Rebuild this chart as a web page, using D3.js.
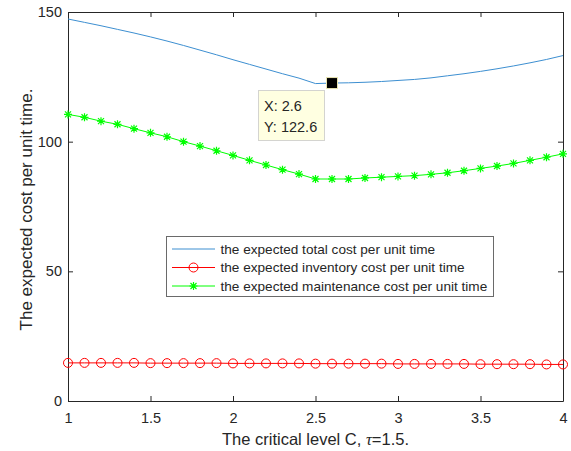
<!DOCTYPE html>
<html><head><meta charset="utf-8">
<script src="https://cdn.jsdelivr.net/npm/d3@7"></script>
<style>
body{margin:0;background:#fff;}
text{font-family:"Liberation Sans",Arial,sans-serif;fill:#262626;}
</style></head>
<body><svg id="c" width="571" height="451"></svg>
<script>
const xValues = [1.0,1.1,1.2,1.3,1.4,1.5,1.6,1.7,1.8,1.9,2.0,2.1,2.2,2.3,2.4,2.5,2.6,2.7,2.8,2.9,3.0,3.1,3.2,3.3,3.4,3.5,3.6,3.7,3.8,3.9,4.0];
const totalCost = [147.3,146.0,144.7,143.3,141.9,140.4,138.8,137.1,135.3,133.5,131.6,129.8,128.0,126.2,124.5,122.4,122.6,122.7,122.9,123.2,123.6,124.0,124.6,125.4,126.2,127.1,128.1,129.2,130.4,131.7,133.2];
const inventoryCost = [14.7,14.7,14.7,14.7,14.7,14.6,14.6,14.6,14.6,14.6,14.5,14.5,14.5,14.5,14.5,14.4,14.4,14.4,14.4,14.4,14.3,14.3,14.3,14.3,14.3,14.2,14.2,14.2,14.2,14.1,14.1];
const maintenanceCost = [110.5,109.4,107.9,106.7,105.0,103.4,101.9,100.0,98.3,96.5,94.7,92.8,91.0,89.2,87.5,85.6,85.6,85.6,86.0,86.3,86.6,86.9,87.4,88.0,88.8,89.7,90.6,91.6,92.8,94.0,95.3];
const xTicks = [1,1.5,2,2.5,3,3.5,4];
const yTicks = [0,50,100,150];
const legendLabels = ["the expected total cost per unit time","the expected inventory cost per unit time","the expected maintenance cost per unit time"];
const tipX = 2.6, tipY = 122.6;

const L=68,R=563,T=12,B=401;
const svg=d3.select("#c");
const x=d3.scaleLinear().domain([1,4]).range([L,R]);
const y=d3.scaleLinear().domain([0,150]).range([B,T]);
const axC="#262626";

// axes
const gx=svg.append("g").attr("transform",`translate(0,${B})`)
  .call(d3.axisBottom(x).tickValues(xTicks).tickFormat(d3.format("")).tickSizeInner(-5).tickSizeOuter(0).tickPadding(12));
const gxt=svg.append("g").attr("transform",`translate(0,${T})`)
  .call(d3.axisTop(x).tickValues(xTicks).tickFormat("").tickSizeInner(-5).tickSizeOuter(0));
const gy=svg.append("g").attr("transform",`translate(${L},0)`)
  .call(d3.axisLeft(y).tickValues(yTicks).tickSizeInner(-5).tickSizeOuter(0).tickPadding(6));
const gyr=svg.append("g").attr("transform",`translate(${R},0)`)
  .call(d3.axisRight(y).tickValues(yTicks).tickFormat("").tickSizeInner(-5).tickSizeOuter(0));
[gx,gxt,gy,gyr].forEach(g=>{
  g.selectAll("path").attr("stroke",axC).attr("stroke-width",1);
  g.selectAll("line").attr("stroke",axC);
  g.selectAll("text").attr("font-size",14.5).attr("fill",axC).style("font-family","'Liberation Sans',Arial,sans-serif");
});

const pts=arr=>xValues.map((v,i)=>[v,arr[i]]);
const line=d3.line().x(d=>x(d[0])).y(d=>y(d[1]));

svg.append("path").datum(pts(totalCost)).attr("d",line).attr("fill","none").attr("stroke","#3d8fd1").attr("stroke-width",1);
svg.append("path").datum(pts(inventoryCost)).attr("d",line).attr("fill","none").attr("stroke","#ff0000").attr("stroke-width",1);
svg.append("path").datum(pts(maintenanceCost)).attr("d",line).attr("fill","none").attr("stroke","#00ff00").attr("stroke-width",1);

function circles(g,data){
  g.selectAll("circle.m").data(data).enter().append("circle")
   .attr("cx",d=>x(d[0])).attr("cy",d=>y(d[1])).attr("r",4.5)
   .attr("fill","none").attr("stroke","#ff0000").attr("stroke-width",1);
}
const starPath=(cx,cy)=>{const r=4,q=3;return `M${cx-r},${cy}H${cx+r}M${cx},${cy-r}V${cy+r}M${cx-q},${cy-q}L${cx+q},${cy+q}M${cx-q},${cy+q}L${cx+q},${cy-q}`;};
circles(svg,pts(inventoryCost));
svg.selectAll("path.star").data(pts(maintenanceCost)).enter().append("path")
  .attr("d",d=>starPath(x(d[0]),y(d[1]))).attr("stroke","#00ff00").attr("stroke-width",1.2).attr("fill","none");

// data tip
svg.append("rect").attr("x",x(tipX)-5.5).attr("y",y(tipY)-5.5).attr("width",11).attr("height",11)
  .attr("fill","#000").attr("stroke","#e8e4b0").attr("stroke-width",1);
const tb=svg.append("g");
tb.append("rect").attr("x",258.5).attr("y",90.5).attr("width",66).attr("height",50)
  .attr("fill","#ffffe1").attr("stroke","#d4d4d0").attr("stroke-width",1);
tb.append("text").attr("x",264).attr("y",111).attr("font-size",14.5).attr("fill","#1a1a1a").text("X: "+tipX);
tb.append("text").attr("x",264).attr("y",132).attr("font-size",14.5).attr("fill","#1a1a1a").text("Y: "+tipY);

// legend
const lg=svg.append("g");
lg.append("rect").attr("x",166.5).attr("y",236.5).attr("width",327).attr("height",60)
  .attr("fill","#fff").attr("stroke","#6a6a6a").attr("stroke-width",1);
const rows=[249,267.5,286];
const lcol=["#3d8fd1","#ff0000","#00ff00"];
rows.forEach((ry,i)=>{
  lg.append("line").attr("x1",172).attr("x2",215).attr("y1",ry).attr("y2",ry).attr("stroke",lcol[i]).attr("stroke-width",1);
  lg.append("text").attr("x",220.5).attr("y",ry).attr("dy","0.35em").attr("font-size",13.6).attr("fill","#000").text(legendLabels[i]);
});
lg.append("circle").attr("cx",193.5).attr("cy",rows[1]).attr("r",4.5).attr("fill","none").attr("stroke","#ff0000");
lg.append("path").attr("d",starPath(193.5,rows[2])).attr("stroke","#00ff00").attr("stroke-width",1.2);

// axis labels
const xl=svg.append("text").attr("x",(L+R)/2).attr("y",445).attr("text-anchor","middle").attr("font-size",16.5);
xl.append("tspan").text("The critical level C, ");
xl.append("tspan").style("font-family","'Liberation Serif','Times New Roman',serif").attr("font-style","italic").text("τ");
xl.append("tspan").text("=1.5.");
svg.append("text").attr("transform",`translate(31.5,${(T+B)/2+3}) rotate(-90)`).attr("text-anchor","middle").attr("font-size",17).text("The expected cost per unit time.");
</script></body></html>
